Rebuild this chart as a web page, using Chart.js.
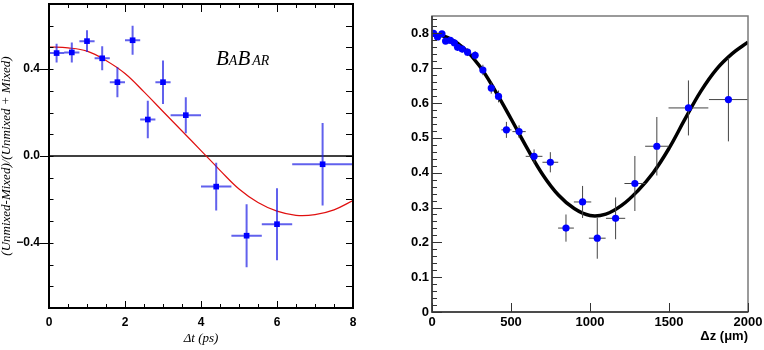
<!DOCTYPE html>
<html>
<head>
<meta charset="utf-8">
<script src="https://cdn.jsdelivr.net/npm/chart.js@4.4.1/dist/chart.umd.min.js"></script>
<style>
    html, body { margin: 0; padding: 0; background: #fff; }
    #wrap { position: relative; width: 764px; height: 350px; overflow: hidden; }
    #mixChart { position: absolute; left: 0; top: 0; }
    #dzChart { position: absolute; left: 380px; top: 0; }
</style>
</head>
<body>
<div id="wrap">
    <canvas id="mixChart" width="380" height="350"></canvas>
    <canvas id="dzChart" width="384" height="350"></canvas>
</div>
<script>
// ---- left panel: (Unmixed-Mixed)/(Unmixed+Mixed) vs Δt ----
const dtCenters = [0.2, 0.6, 1.0, 1.4, 1.8, 2.2, 2.6, 3.0, 3.6, 4.4, 5.2, 6.0, 7.2];
const dtHalfWidths = [0.2, 0.2, 0.2, 0.2, 0.2, 0.2, 0.2, 0.2, 0.4, 0.4, 0.4, 0.4, 0.8];
const asymValues = [0.474, 0.477, 0.529, 0.45, 0.34, 0.533, 0.168, 0.34, 0.188, -0.141, -0.367, -0.314, -0.038];
const asymErrors = [0.043, 0.046, 0.05, 0.055, 0.069, 0.067, 0.086, 0.1, 0.083, 0.11, 0.145, 0.166, 0.19];
const fitDt = [0, 0.5, 1, 1.5, 2, 2.5, 3, 3.5, 4, 4.5, 5, 5.5, 6, 6.5, 7, 7.5, 8];
const fitAsym = [0.502, 0.498, 0.483, 0.44, 0.38, 0.295, 0.205, 0.115, 0.025, -0.066, -0.152, -0.214, -0.254, -0.273, -0.27, -0.248, -0.205];
const dtTickLabels = [0, 2, 4, 6, 8];
const asymTickLabels = [-0.4, 0, 0.4];

// ---- right panel: asymmetry vs Δz ----
const dzCenters = [10, 35, 63, 86, 116, 141, 162, 191, 225, 273, 322, 375, 421, 471, 551, 646, 749, 848, 953, 1046, 1162, 1284, 1423, 1623, 1876];
const dzHalfWidths = [10, 12, 12, 12, 12, 12, 12, 15, 15, 18, 18, 20, 22, 32, 42, 53, 50, 50, 55, 53, 61, 66, 74, 126, 123];
const dzValues = [0.8, 0.79, 0.799, 0.778, 0.78, 0.773, 0.76, 0.755, 0.746, 0.737, 0.695, 0.643, 0.619, 0.523, 0.518, 0.447, 0.43, 0.241, 0.316, 0.212, 0.269, 0.369, 0.476, 0.586, 0.61];
const dzErrors = [0.008, 0.008, 0.008, 0.008, 0.008, 0.009, 0.01, 0.01, 0.011, 0.012, 0.015, 0.016, 0.017, 0.023, 0.018, 0.02, 0.029, 0.039, 0.046, 0.059, 0.06, 0.079, 0.084, 0.079, 0.12];
const fitDz = [0, 100, 200, 300, 400, 500, 600, 700, 800, 900, 1000, 1100, 1200, 1300, 1400, 1500, 1600, 1700, 1800, 1900, 2000];
const fitDzValues = [0.8, 0.788, 0.758, 0.707, 0.635, 0.555, 0.472, 0.395, 0.336, 0.297, 0.277, 0.281, 0.306, 0.347, 0.4, 0.47, 0.553, 0.633, 0.697, 0.742, 0.775];
const dzTickLabels = [0, 500, 1000, 1500, 2000];
const dzValueTickLabels = [0, 0.1, 0.2, 0.3, 0.4, 0.5, 0.6, 0.7, 0.8];

// error bars as broken line segments (null y breaks the line)
const errorSegments = (xs, halfW, ys, errs) => {
    const pts = [];
    xs.forEach((x, i) => {
        pts.push({ x: x - halfW[i], y: ys[i] }, { x: x + halfW[i], y: ys[i] }, { x: x, y: null });
        pts.push({ x: x, y: ys[i] - errs[i] }, { x: x, y: ys[i] + errs[i] }, { x: x, y: null });
    });
    return pts;
};
const zip = (xs, ys) => xs.map((x, i) => ({ x: x, y: ys[i] }));

const steps = (min, max, step) => {
    const out = [];
    for (let v = min; v <= max + step / 1000; v += step) out.push(Math.round(v / step) * step);
    return out;
};

// tick marks: len > 0 goes into the plot, len < 0 goes outside
const drawTicks = (chart, axisId, side, values, len, color, width) => {
    const scale = chart.scales[axisId];
    const a = chart.chartArea;
    const ctx = chart.ctx;
    ctx.save();
    ctx.strokeStyle = color;
    ctx.lineWidth = width;
    ctx.beginPath();
    values.forEach(v => {
        const p = Math.round(scale.getPixelForValue(v)) + 0.5;
        if (side === 'bottom') { ctx.moveTo(p, a.bottom); ctx.lineTo(p, a.bottom - len); }
        if (side === 'top') { ctx.moveTo(p, a.top); ctx.lineTo(p, a.top + len); }
        if (side === 'left') { ctx.moveTo(a.left, p); ctx.lineTo(a.left + len, p); }
        if (side === 'right') { ctx.moveTo(a.right, p); ctx.lineTo(a.right - len, p); }
    });
    ctx.stroke();
    ctx.restore();
};

const tickFont = (size) => ({ family: '"Liberation Sans", Arial, sans-serif', size: size, weight: 'bold' });

// keep label overhang from pushing the plot area around
const fixSize = (prop, px) => (scale) => {
    scale[prop] = px;
    scale.paddingTop = 0;
    scale.paddingBottom = 0;
    scale.paddingLeft = 0;
    scale.paddingRight = 0;
};

const leftFrame = {
    id: 'leftFrame',
    afterDatasetsDraw(chart) {
        const a = chart.chartArea;
        const ctx = chart.ctx;
        drawTicks(chart, 'x', 'bottom', steps(0, 8, 0.5), 4, '#000', 1);
        drawTicks(chart, 'x', 'bottom', steps(0, 8, 2), 7, '#000', 1);
        drawTicks(chart, 'x', 'top', steps(0, 8, 0.5), 4, '#000', 1);
        drawTicks(chart, 'x', 'top', steps(0, 8, 2), 8, '#000', 1);
        drawTicks(chart, 'y', 'left', steps(-0.7, 0.7, 0.1), 4.5, '#000', 1);
        drawTicks(chart, 'y', 'left', asymTickLabels, -9, '#000', 1);
        drawTicks(chart, 'y', 'right', steps(-0.7, 0.7, 0.1), 7, '#000', 1);
        ctx.save();
        ctx.strokeStyle = '#000';
        ctx.lineWidth = 2;
        ctx.strokeRect(a.left, a.top, a.right - a.left, a.bottom - a.top);
        // BaBar logo
        ctx.fillStyle = '#000';
        ctx.textBaseline = 'alphabetic';
        let x = a.left + 167;
        const y = a.top + 61;
        [['B', 21], ['A', 14], ['B', 21], ['A', 14], ['R', 14]].forEach(([ch, size], i) => {
            ctx.font = `italic ${size}px "Liberation Serif", "Times New Roman", serif`;
            ctx.fillText(ch, x, y);
            x += ctx.measureText(ch).width + (i === 2 ? 2 : 0);
        });
        ctx.restore();
    }
};

const rightFrame = {
    id: 'rightFrame',
    afterDatasetsDraw(chart) {
        const a = chart.chartArea;
        const ctx = chart.ctx;
        ctx.save();
        ctx.strokeStyle = '#7a7a7a';
        ctx.lineWidth = 1.5;
        ctx.strokeRect(a.left, a.top, a.right - a.left, a.bottom - a.top);
        ctx.strokeStyle = '#333';
        ctx.beginPath();
        ctx.moveTo(a.left, a.top);
        ctx.lineTo(a.left, a.bottom);
        ctx.lineTo(a.right, a.bottom);
        ctx.stroke();
        ctx.restore();
        drawTicks(chart, 'y', 'left', steps(0, 0.84, 0.02), 5, '#333', 1);
        drawTicks(chart, 'y', 'left', dzValueTickLabels, 10, '#333', 1);
        drawTicks(chart, 'x', 'bottom', dzTickLabels, 9, '#333', 1);
    }
};

new Chart(document.getElementById('mixChart'), {
    type: 'scatter',
    data: {
        datasets: [
            {
                data: zip(dtCenters, asymValues),
                pointStyle: 'rect',
                pointRadius: 4,
                backgroundColor: '#0000ff',
                borderColor: '#0000ff',
                borderWidth: 0
            },
            {
                data: errorSegments(dtCenters, dtHalfWidths, asymValues, asymErrors),
                showLine: true,
                spanGaps: false,
                pointRadius: 0,
                borderColor: 'rgba(30, 30, 230, 0.7)',
                borderWidth: 2
            },
            {
                data: zip(fitDt, fitAsym),
                showLine: true,
                pointRadius: 0,
                tension: 0.4,
                borderColor: '#e01010',
                borderWidth: 1.2
            },
            {
                data: [{ x: 0, y: 0 }, { x: 8, y: 0 }],
                showLine: true,
                pointRadius: 0,
                borderColor: '#000',
                borderWidth: 1.4
            }
        ]
    },
    options: {
        responsive: false,
        animation: false,
        events: [],
        layout: { padding: { left: 0, right: 27, top: 4, bottom: 0 } },
        plugins: { legend: { display: false }, tooltip: { enabled: false } },
        scales: {
            x: {
                type: 'linear', min: 0, max: 8,
                grid: { display: false, drawTicks: false },
                border: { display: false },
                afterBuildTicks: (scale) => { scale.ticks = dtTickLabels.map(v => ({ value: v })); },
                afterFit: fixSize('height', 42),
                ticks: { font: tickFont(12), color: '#000', padding: 7, maxRotation: 0, autoSkip: false, callback: (v) => String(v) },
                title: {
                    display: true, text: 'Δt (ps)', color: '#000',
                    font: { family: '"Liberation Serif", "Times New Roman", serif', size: 13, style: 'italic', lineHeight: 1.2 },
                    padding: { top: 0, bottom: 4 }
                }
            },
            y: {
                type: 'linear', min: -0.7, max: 0.7,
                grid: { display: false, drawTicks: false },
                border: { display: false },
                afterBuildTicks: (scale) => { scale.ticks = asymTickLabels.map(v => ({ value: v })); },
                afterFit: fixSize('width', 49),
                ticks: { font: tickFont(12), color: '#000', padding: 9, autoSkip: false, callback: (v) => (v < 0 ? '\u2212' : '') + Math.abs(v).toFixed(1) },
                title: {
                    display: true, text: '(Unmixed-Mixed)/(Unmixed + Mixed)', color: '#000',
                    font: { family: '"Liberation Serif", "Times New Roman", serif', size: 13, style: 'italic', lineHeight: 1 },
                    padding: { top: 0, bottom: 0 }
                }
            }
        }
    },
    plugins: [leftFrame]
});

new Chart(document.getElementById('dzChart'), {
    type: 'scatter',
    data: {
        datasets: [
            {
                data: zip(dzCenters, dzValues),
                pointStyle: 'circle',
                pointRadius: 3.6,
                backgroundColor: '#0000ff',
                borderColor: '#0000ff',
                borderWidth: 0
            },
            {
                data: errorSegments(dzCenters, dzHalfWidths, dzValues, dzErrors),
                showLine: true,
                spanGaps: false,
                pointRadius: 0,
                borderColor: '#444',
                borderWidth: 1
            },
            {
                data: zip(fitDz, fitDzValues),
                showLine: true,
                pointRadius: 0,
                tension: 0.4,
                borderColor: '#000',
                borderWidth: 3.5
            }
        ]
    },
    options: {
        responsive: false,
        animation: false,
        events: [],
        layout: { padding: { left: 0, right: 16, top: 16, bottom: 0 } },
        plugins: { legend: { display: false }, tooltip: { enabled: false } },
        scales: {
            x: {
                type: 'linear', min: 0, max: 2000,
                grid: { display: false, drawTicks: false },
                border: { display: false },
                afterBuildTicks: (scale) => { scale.ticks = dzTickLabels.map(v => ({ value: v })); },
                afterFit: fixSize('height', 38),
                ticks: { font: tickFont(13), color: '#000', padding: 3, maxRotation: 0, autoSkip: false, callback: (v) => String(v) },
                title: {
                    display: true, text: 'Δz (μm)', color: '#000', align: 'end',
                    font: { family: '"Liberation Sans", Arial, sans-serif', size: 13, weight: 'bold', lineHeight: 1.2 },
                    padding: { top: 0, bottom: 5.5 }
                }
            },
            y: {
                type: 'linear', min: 0, max: 0.85,
                grid: { display: false, drawTicks: false },
                border: { display: false },
                afterBuildTicks: (scale) => { scale.ticks = dzValueTickLabels.map(v => ({ value: v })); },
                afterFit: fixSize('width', 52),
                ticks: { font: tickFont(13), color: '#000', padding: 3, autoSkip: false, callback: (v) => (v === 0 ? '0' : v.toFixed(1)) }
            }
        }
    },
    plugins: [rightFrame]
});
</script>
</body>
</html>
